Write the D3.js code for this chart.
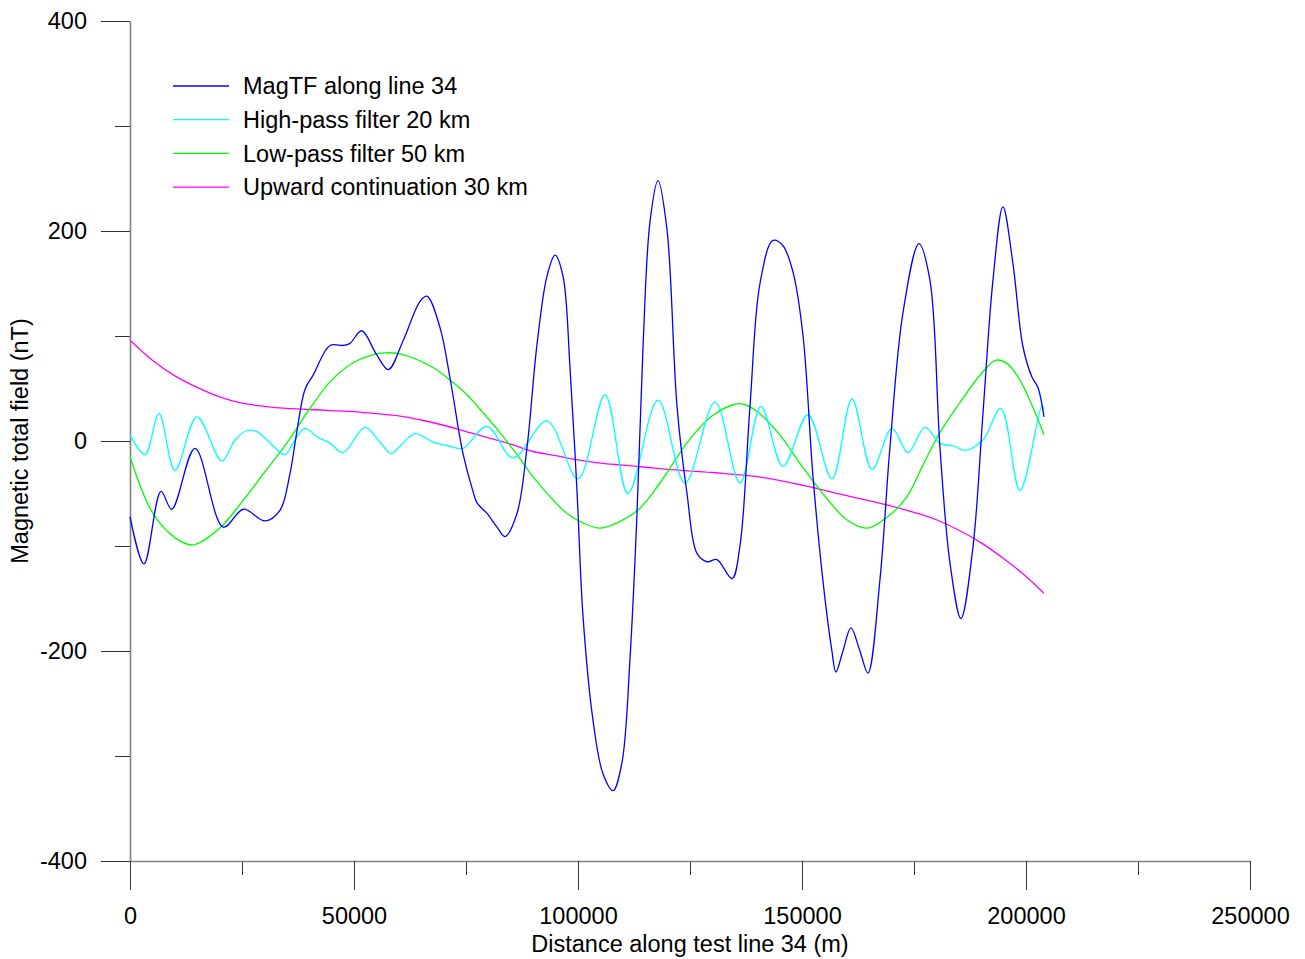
<!DOCTYPE html>
<html>
<head>
<meta charset="utf-8">
<script src="https://cdn.jsdelivr.net/npm/d3@7"></script>
<style>
  html, body { margin: 0; padding: 0; background: #fff; }
  svg { display: block; }
  text { font-family: "Liberation Sans", Arial, sans-serif; }
</style>
</head>
<body>
<svg id="chart" width="1305" height="959"></svg>
<script>
// Distance along the profile (m) and field values (nT) for each trace.
const magDist = [0, 3125, 6920, 9310, 14510, 20830, 25290, 30130, 33480, 35710, 37210, 39060, 40910, 44640, 47610, 49110, 51720, 55070, 57660, 61010, 64730, 66290, 69200, 71430, 74330, 76560, 77460, 79690, 81920, 83710, 86380, 88620, 90850, 93080, 94870, 96650, 98210, 99780, 101120, 103350, 105580, 107810, 109820, 111610, 113170, 114510, 116070, 117860, 119870, 122100, 124330, 126560, 128790, 131020, 134370, 136150, 138390, 140620, 143520, 145750, 147980, 150210, 152440, 154670, 156680, 157570, 159140, 160920, 162930, 164720, 167400, 169630, 172530, 176100, 178560, 180790, 183020, 185480, 188160, 190390, 192620, 194850, 197080, 199310, 201330, 202670, 204010];
const magTF = [-72, -117, -48, -65, -7, -82, -65, -76, -66, -31, 8, 49, 63, 91, 91, 93, 105, 82, 68, 96, 133, 138, 108, 60, -12, -48, -59, -69, -82, -91, -69, -6, 92, 157, 177, 157, 70, -48, -167, -266, -317, -333, -306, -207, -69, 89, 209, 248, 201, 33, -50, -107, -115, -113, -131, -100, 33, 150, 191, 186, 161, 101, -33, -133, -200, -220, -200, -178, -200, -221, -132, -6, 122, 188, 153, -6, -116, -169, -101, 26, 153, 223, 169, 90, 61, 51, 23];

const hpDist = [0, 3350, 6470, 10040, 14950, 20530, 23440, 26110, 28350, 30580, 34600, 36380, 39060, 41740, 44640, 47540, 52450, 55800, 58260, 60270, 63610, 67630, 71430, 74330, 79690, 85490, 93080, 100000, 106030, 111160, 117860, 123880, 130570, 136150, 140840, 145750, 151330, 156680, 161150, 165620, 170080, 173650, 177440, 180790, 184140, 186380, 190390, 194410, 198650, 203560, 204010];
const highPass = [6, -13, 26, -28, 23, -19, 1, 10, 9, 1, -13, -2, 12, 4, -2, -11, 13, -1, -12, -5, 7, -1, -5, -7, 14, -16, 19, -36, 44, -50, 39, -40, 37, -40, 33, -24, 25, -36, 40, -27, 12, -11, 13, -2, -5, -9, 1, 31, -47, 34, 30];

const lpDist = [0, 5000, 10000, 14000, 20000, 25000, 30000, 35000, 40000, 45000, 50000, 55000, 57000, 60270, 67630, 71430, 75220, 78790, 82590, 86380, 89950, 93750, 97540, 101120, 104910, 108700, 113840, 118300, 125000, 130000, 135000, 137000, 140000, 145000, 150000, 155000, 160000, 164500, 170000, 173430, 177000, 180790, 185000, 190000, 193300, 196000, 198650, 201550, 204010];
const lowPass = [-15, -68, -92, -99, -83, -58, -30, -2, 30, 58, 75, 83, 84, 83, 70, 58, 44, 27, 8, -13, -34, -53, -69, -78, -83, -78, -64, -40, 2, 24, 35, 35, 28, 6, -24, -52, -75, -83, -69, -53, -23, 8, 35, 64, 77, 73, 58, 32, 6];

const ucDist = [0, 5000, 10000, 15000, 20000, 25000, 30000, 35000, 40000, 45000, 50000, 55000, 60000, 65000, 70000, 75000, 80000, 85000, 90000, 95000, 100000, 105000, 110000, 115000, 120000, 130000, 140000, 150000, 160000, 170000, 175000, 180000, 185000, 190000, 195000, 200000, 204000];
const upward = [96, 77, 62, 51, 42, 36, 33, 31, 30, 29, 28, 26, 24, 20, 15, 9, 3, -3, -10, -14, -18, -21, -23, -25, -27, -30, -34, -42, -52, -62, -68, -75, -85, -97, -112, -129, -145];

const seriesNames = ["MagTF along line 34", "High-pass filter 20 km", "Low-pass filter 50 km", "Upward continuation 30 km"];
const seriesColors = ["#0000ff", "#00ffff", "#00ff00", "#ff00ff"];

const xMajorTicks = [0, 50000, 100000, 150000, 200000, 250000];
const xMinorTicks = [25000, 75000, 125000, 175000, 225000];
const yMajorTicks = [-400, -200, 0, 200, 400];
const yMinorTicks = [-300, -100, 100, 300];

const xTitle = "Distance along test line 34 (m)";
const yTitle = "Magnetic total field (nT)";

const fontSize = "23.5px";

const svg = d3.select("#chart");
const x = d3.scaleLinear().domain([0, 250000]).range([130, 1250]);
const y = d3.scaleLinear().domain([-400, 400]).range([861, 21]);

const axisColor = "#808080";
const tickColor = "#333";
const plainNumber = d => String(d);

function styleAxis(g, showDomain) {
  g.select(".domain").attr("stroke", axisColor).attr("stroke-width", 1.6)
    .style("display", showDomain ? null : "none");
  g.selectAll(".tick line").attr("stroke", tickColor).attr("stroke-width", 1);
  g.selectAll(".tick text").attr("fill", "#000").style("font-size", fontSize)
    .style("font-family", "'Liberation Sans', Arial, sans-serif");
}

// Minor ticks first, then major ticks with labels
svg.append("g").attr("transform", `translate(0,${y(-400)})`)
  .call(d3.axisBottom(x).tickValues(xMinorTicks).tickSize(14).tickSizeOuter(0).tickFormat(""))
  .call(g => styleAxis(g, false));
svg.append("g").attr("transform", `translate(0,${y(-400)})`)
  .call(d3.axisBottom(x).tickValues(xMajorTicks).tickSize(29).tickSizeOuter(0).tickPadding(17).tickFormat(plainNumber))
  .call(g => styleAxis(g, true));

svg.append("g").attr("transform", `translate(${x(0)},0)`)
  .call(d3.axisLeft(y).tickValues(yMinorTicks).tickSize(15).tickSizeOuter(0).tickFormat(""))
  .call(g => styleAxis(g, false));
svg.append("g").attr("transform", `translate(${x(0)},0)`)
  .call(d3.axisLeft(y).tickValues(yMajorTicks).tickSize(29).tickSizeOuter(0).tickPadding(14).tickFormat(plainNumber))
  .call(g => styleAxis(g, true));

// Axis titles
svg.append("text")
  .attr("x", 690).attr("y", 952)
  .attr("text-anchor", "middle")
  .style("font-size", fontSize).attr("fill", "#000")
  .text(xTitle);
svg.append("text")
  .attr("transform", "translate(28,441) rotate(-90)")
  .attr("text-anchor", "middle")
  .style("font-size", fontSize).attr("fill", "#000")
  .text(yTitle);

// Profile traces
const series = [
  { dist: magDist, vals: magTF },
  { dist: hpDist, vals: highPass },
  { dist: lpDist, vals: lowPass },
  { dist: ucDist, vals: upward }
];
const line = d3.line()
  .x(d => x(d[0]))
  .y(d => y(d[1]))
  .curve(d3.curveCatmullRom.alpha(0.5));

const drawOrder = [3, 2, 1, 0];
drawOrder.forEach(i => {
  const s = series[i];
  const pts = s.dist.map((d, k) => [d, s.vals[k]]);
  svg.append("path")
    .datum(pts)
    .attr("fill", "none")
    .attr("stroke", seriesColors[i])
    .attr("stroke-width", 1.3)
    .attr("stroke-linejoin", "round")
    .attr("d", line);
});

// Legend
const legend = svg.append("g").attr("transform", "translate(173,86)");
seriesNames.forEach((name, i) => {
  const row = legend.append("g").attr("transform", `translate(0,${i * 33.7})`);
  row.append("line")
    .attr("x1", 0).attr("x2", 56).attr("y1", 0).attr("y2", 0)
    .attr("stroke", seriesColors[i]).attr("stroke-width", 1.3);
  row.append("text")
    .attr("x", 70).attr("y", 0).attr("dy", "0.35em")
    .style("font-size", fontSize).attr("fill", "#000")
    .text(name);
});
</script>
</body>
</html>
